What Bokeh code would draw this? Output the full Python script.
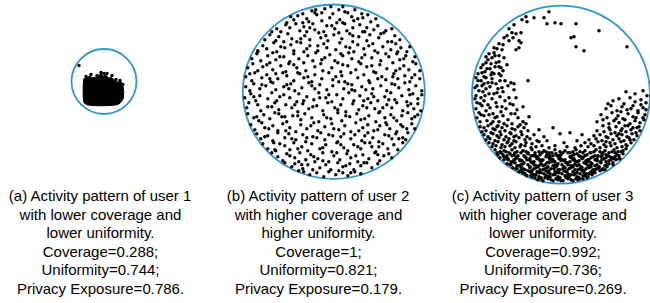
from bokeh.plotting import figure
from bokeh.models import Range1d
from bokeh.embed import file_html
from bokeh.resources import INLINE
from bokeh.core.properties import value

# ---------------- data (map units, relative to each user's circle centre; y grows downward) -------------
# user 1: dense cluster outline + isolated visits
user1_blob_x = [-20.2, -16.8, -14.2, -11.8, -8.5, -5.2, -2.8, -0.8, 1.5, 4.8, 6.5, 9.2, 11.5, 14.8, 18.2,
                19.2, 19.8, 19.2, 16.5, 13.2, 6.5, -3.5, -11.8, -16.8, -20.2, -20.8, -20.8]
user1_blob_y = [-2.7, -4.3, -5.3, -3.7, -4.3, -6.0, -7.7, -5.3, -6.7, -3.3, -4.3, -2.7, 0.0, 0.7, 1.3,
                5.7, 10.7, 17.3, 21.3, 23.3, 24.0, 24.3, 24.0, 23.3, 21.3, 14.0, 4.0]
user1_points = [(-25, -16), (-18, -5), (-13, -7), (-7, -6), (-3, -9), (0, -8), (3, -8), (8, -6), (12, -2),
                (16, -1), (19, 3)]

user2_points = [
    (-31, -78), (-22, -81), (-19, -79), (-9, -83), (-3, -85), (5, -82), (9, -85), (14, -79), (21, -82),
    (28, -78), (-12, -79),
    (-47, -69), (-40, -72), (-36, -76), (-27, -73), (-25, -70), (-17, -77), (-12, -71), (-4, -74), (-1, -78),
    (6, -72), (9, -69), (18, -75), (20, -71), (29, -74), (37, -70), (42, -73), (34, -77), (-31, -69),
    (-57, -63), (-53, -60), (-48, -67), (-44, -64), (-34, -61), (-30, -65), (-21, -68), (-19, -62), (-10, -60),
    (-7, -66), (1, -63), (11, -68), (13, -61), (19, -64), (26, -67), (31, -60), (40, -62), (44, -66),
    (52, -61), (58, -63), (-38, -68), (3, -69),
    (-69, -52), (-64, -57), (-58, -51), (-55, -55), (-46, -58), (-42, -53), (-37, -50), (-29, -56), (-24, -52),
    (-15, -59), (-13, -54), (-6, -51), (0, -57), (8, -53), (16, -58), (19, -50), (25, -55), (33, -51),
    (36, -57), (45, -54), (50, -59), (54, -50), (61, -56), (66, -52), (-50, -50), (5, -59), (29, -60),
    (-76, -41), (-71, -46), (-67, -43), (-60, -49), (-57, -40), (-49, -44), (-43, -47), (-40, -41), (-33, -49),
    (-27, -43), (-24, -46), (-16, -41), (-10, -48), (-7, -44), (2, -42), (6, -49), (12, -45), (20, -40),
    (24, -47), (30, -43), (39, -48), (41, -41), (49, -45), (57, -42), (62, -48), (67, -44), (73, -40), (76, -45),
    (-82, -33), (-77, -38), (-73, -31), (-66, -36), (-61, -39), (-58, -32), (-50, -35), (-44, -30), (-40, -38),
    (-35, -33), (-26, -36), (-21, -31), (-18, -39), (-9, -34), (-4, -37), (1, -31), (9, -36), (15, -39),
    (18, -33), (25, -30), (31, -37), (38, -34), (44, -39), (47, -31), (55, -35), (63, -38), (66, -32),
    (72, -36), (79, -30), (81, -35),
    (-86, -24), (-81, -28), (-76, -21), (-71, -25), (-64, -29), (-61, -22), (-53, -26), (-48, -20), (-45, -28),
    (-37, -24), (-30, -29), (-28, -21), (-19, -25), (-13, -28), (-11, -21), (-2, -24), (4, -29), (7, -20),
    (14, -26), (22, -22), (27, -28), (33, -25), (40, -20), (46, -27), (53, -23), (59, -29), (62, -21),
    (70, -26), (75, -22), (82, -28), (86, -21),
    (-88, -15), (-82, -11), (-79, -19), (-72, -14), (-67, -17), (-63, -10), (-56, -13), (-51, -19), (-47, -16),
    (-40, -11), (-34, -18), (-30, -14), (-22, -10), (-19, -17), (-12, -13), (-5, -19), (-1, -12), (8, -16),
    (11, -10), (17, -19), (24, -14), (30, -17), (35, -11), (42, -19), (48, -15), (52, -12), (60, -18),
    (64, -13), (71, -16), (76, -10), (81, -17), (86, -13),
    (-88, -5), (-84, -1), (-80, -8), (-74, -3), (-68, -6), (-61, -9), (-58, -2), (-50, -5), (-43, -8),
    (-39, -1), (-32, -4), (-25, -9), (-19, -3), (-14, -7), (-7, -2), (-1, -6), (5, -10), (10, -3), (18, -7),
    (21, -1), (28, -5), (36, -9), (39, -3), (47, -6), (53, -1), (58, -8), (65, -4), (71, -9), (75, -2),
    (82, -6), (88, -1),
    (-89, 6), (-83, 2), (-78, 9), (-74, 4), (-66, 7), (-62, 1), (-57, 9), (-50, 3), (-44, 6), (-37, 10),
    (-35, 2), (-27, 5), (-20, 8), (-15, 1), (-8, 6), (-2, 10), (3, 3), (9, 7), (15, 1), (20, 9), (26, 4),
    (34, 7), (38, 2), (44, 9), (51, 5), (57, 1), (61, 8), (68, 4), (73, 10), (79, 2), (84, 7), (88, 3),
    (-87, 16), (-85, 11), (-76, 13), (-73, 19), (-66, 15), (-59, 11), (-55, 18), (-48, 13), (-42, 16),
    (-36, 20), (-31, 12), (-25, 17), (-17, 14), (-11, 19), (-6, 11), (1, 16), (7, 13), (12, 20), (19, 12),
    (25, 18), (29, 14), (37, 11), (41, 17), (46, 20), (53, 13), (58, 16), (63, 11), (69, 19), (74, 14),
    (80, 17), (84, 12), (87, 19),
    (-86, 22), (-80, 26), (-75, 29), (-70, 23), (-64, 27), (-59, 21), (-52, 25), (-47, 30), (-41, 24),
    (-33, 28), (-29, 22), (-22, 26), (-15, 30), (-10, 23), (-3, 27), (4, 21), (8, 29), (16, 25), (23, 22),
    (27, 28), (35, 24), (42, 30), (45, 21), (51, 26), (57, 23), (63, 29), (68, 24), (74, 21), (78, 27),
    (84, 23),
    (-83, 33), (-79, 38), (-72, 31), (-69, 36), (-61, 34), (-56, 39), (-51, 32), (-44, 36), (-38, 40),
    (-33, 33), (-27, 37), (-20, 31), (-16, 39), (-9, 35), (-2, 32), (5, 38), (11, 34), (17, 40), (22, 31),
    (29, 36), (34, 33), (40, 39), (46, 34), (52, 31), (56, 37), (63, 40), (67, 33), (73, 37), (78, 32),
    (81, 37),
    (-77, 42), (-73, 47), (-66, 44), (-61, 49), (-56, 41), (-49, 46), (-45, 42), (-38, 48), (-31, 43),
    (-28, 50), (-21, 45), (-13, 41), (-9, 48), (-1, 44), (4, 50), (10, 42), (17, 47), (21, 43), (28, 49),
    (34, 41), (39, 46), (45, 50), (51, 43), (58, 47), (62, 42), (69, 46), (74, 41), (72, 48),
    (-71, 52), (-66, 57), (-60, 51), (-58, 59), (-49, 54), (-44, 58), (-40, 51), (-32, 55), (-26, 59),
    (-22, 52), (-14, 57), (-8, 53), (-2, 60), (3, 51), (10, 56), (14, 59), (20, 53), (27, 57), (31, 51),
    (38, 55), (42, 60), (49, 52), (54, 57), (60, 53), (64, 58), (69, 51),
    (-62, 61), (-56, 65), (-51, 69), (-47, 62), (-39, 66), (-34, 61), (-28, 68), (-23, 63), (-16, 67),
    (-11, 61), (-5, 70), (0, 64), (6, 68), (13, 62), (17, 66), (24, 70), (29, 63), (35, 67), (41, 61),
    (46, 69), (50, 64), (55, 62), (58, 66),
    (-49, 71), (-42, 75), (-39, 72), (-31, 77), (-26, 73), (-19, 70), (-14, 76), (-8, 73), (-3, 78),
    (4, 71), (9, 75), (16, 72), (20, 78), (27, 74), (33, 71), (38, 76), (44, 72), (-35, 70),
    (-30, 80), (-24, 83), (-17, 81), (-10, 85), (-5, 80), (2, 83), (9, 81), (14, 84), (21, 80), (27, 82),
    (-35, 79),
    # further visits (clumps)
    (-18, -82), (11, -80), (-43, -75), (24, -73), (-2, -66), (33, -64), (-62, -60), (-27, -60), (47, -58),
    (-8, -56), (58, -50), (-53, -45), (16, -44), (35, -46), (-76, -40), (-30, -40), (52, -38), (-12, -32),
    (28, -34), (70, -33), (-67, -27), (-40, -27), (9, -27), (38, -26), (66, -23), (-84, -18), (-58, -18),
    (-26, -15), (2, -15), (44, -13), (78, -14), (-72, -7), (-45, -3), (-22, -6), (14, -8), (32, -2), (61, -7),
    (-80, 5), (-54, 5), (-30, 9), (-5, 3), (30, 9), (55, 8), (76, 3), (-62, 15), (-39, 13), (-21, 15), (4, 18),
    (33, 16), (49, 16), (77, 12), (-77, 25), (-55, 22), (-36, 24), (-7, 26), (12, 24), (31, 27), (60, 26),
    (81, 25), (-65, 37), (-48, 39), (-23, 34), (0, 37), (25, 39), (44, 38), (69, 35), (-69, 45), (-42, 47),
    (-17, 46), (7, 45), (31, 44), (55, 44), (65, 47), (-54, 52), (-36, 57), (-11, 56), (7, 53), (24, 55),
    (45, 55), (-44, 64), (-20, 65), (3, 61), (22, 64), (44, 63), (-32, 73), (-11, 69), (12, 74), (30, 71),
    (-21, 78), (5, 79), (17, 81), (-47, -7), (-16, -46), (19, -56), (-33, -53), (-54, -35), (7, -38),
    (59, -15), (-64, -13), (40, 5), (-14, 6), (-49, 25), (53, 33), (-27, 46), (36, 51), (-59, 58), (-5, 43),
    (18, -2), (-36, -19), (64, -40), (-24, -64),
]

user3_points = [
    # sparse visits in the upper part
    (-12, -83), (-17, -77), (-27, -77), (-35, -78), (-39, -75), (-34, -73), (-14, -71), (-6, -72), (0, -71),
    (15, -71), (38, -64), (10, -57), (13, -58), (15, -48), (23, -44), (66, -48), (-47, -70), (-42, -47),
    (-40, -52), (-45, -45),
    # left band
    (-52, -66), (-49, -62), (-54, -59), (-45, -61), (-40, -62), (-42, -54), (-52, -54), (-57, -57), (-62, -51),
    (-64, -46), (-59, -45), (-67, -42), (-69, -37), (-72, -41), (-62, -39), (-75, -32), (-70, -31), (-65, -32),
    (-60, -27), (-74, -26), (-79, -22), (-69, -22), (-62, -21), (-75, -17), (-80, -14), (-84, -9), (-77, -11),
    (-69, -12), (-82, -4), (-75, -6), (-85, 1), (-80, 3), (-72, -1), (-64, -2), (-59, -7), (-47, -11),
    (-33, -14), (-52, 3),
    (-75, -38), (-66, -39), (-62, -33), (-78, -30), (-57, -37),
    (-80, -27), (-76, -23), (-71, -26), (-67, -21), (-62, -28), (-58, -24), (-83, -21),
    (-85, -17), (-77, -18), (-73, -12), (-69, -16), (-65, -11), (-60, -19), (-56, -14), (-50, -12),
    (-86, -7), (-79, -9), (-71, -8), (-67, -1), (-63, -6), (-58, -3), (-53, -9), (-47, -5),
    (-86, 4), (-84, 8), (-77, 6), (-73, 10), (-69, 4), (-65, 8), (-61, 2), (-56, 6), (-51, 9), (-45, 3),
    (-85, 14), (-82, 18), (-79, 11), (-75, 16), (-71, 13), (-68, 19), (-64, 12), (-60, 17), (-55, 14),
    (-50, 19), (-44, 15), (-38, 12),
    (-84, 23), (-81, 27), (-77, 21), (-74, 26), (-70, 29), (-66, 23), (-62, 27), (-58, 21), (-53, 25),
    (-49, 29), (-43, 23), (-38, 27), (-32, 22),
    (-83, -14), (-78, -3), (-81, 9), (-76, 1), (-72, 20), (-68, 27), (-63, 31), (-57, 29), (-70, -20),
    (-66, -28), (-73, -35), (-67, -47), (-58, -50), (-48, -57), (-54, -30), (-46, 19), (-41, 30), (-35, 29),
    (-47, 42), (-53, 47), (-80, 20), (-64, 22), (-59, 12), (-48, 10), (-61, -14),
    # right band
    (65, -3), (74, -1), (82, -4), (86, 1),
    (52, 6), (58, 4), (63, 9), (69, 3), (74, 7), (80, 5), (85, 8), (47, 9),
    (45, 14), (50, 11), (56, 16), (61, 12), (66, 15), (72, 11), (77, 16), (82, 13), (85, 15),
    (40, 20), (46, 23), (51, 18), (57, 21), (62, 24), (67, 19), (72, 22), (77, 18), (82, 23), (84, 20),
    (36, 27), (42, 25), (48, 29), (53, 26), (58, 28), (64, 25), (69, 29), (74, 26), (79, 28), (83, 25),
    (60, 17), (70, 14), (75, 23), (80, 10), (55, 24), (64, 31), (76, 33), (58, 39), (45, 47), (69, 45),
    # lower left / lower right shoulders
    (-81, 32), (-77, 33), (-73, 31), (-68, 34), (-64, 32), (-59, 33), (-54, 31), (-49, 34), (-43, 32), (-37, 33),
    (-79, 37), (-75, 36), (-70, 38), (-66, 35), (-61, 37), (-56, 36), (-51, 38), (-46, 35), (-40, 37), (-33, 36),
    (-77, 40), (-73, 42), (-68, 39), (-64, 41), (-60, 40), (-55, 42), (-50, 39), (-45, 41), (-39, 40),
    (-34, 42), (-27, 40),
    (-75, 45), (-71, 44), (-66, 46), (-62, 43), (-57, 45), (-52, 44), (-47, 46), (-42, 43), (-36, 45),
    (-31, 44), (-24, 46),
    (-72, 48), (-68, 49), (-63, 47), (-59, 50), (-54, 48), (-49, 49), (-45, 47), (-40, 50), (-35, 48),
    (-29, 49), (-22, 47),
    (-69, 52), (-65, 51), (-60, 53), (-56, 52), (-51, 51), (-46, 53), (-41, 52), (-36, 51), (-30, 53),
    (-25, 52), (-19, 51), (-12, 53),
    (42, 31), (48, 33), (55, 32), (61, 34), (67, 31), (72, 33), (78, 32),
    (36, 36), (43, 37), (49, 35), (54, 38), (60, 36), (65, 37), (70, 35), (75, 38), (79, 36),
    (33, 41), (39, 40), (45, 42), (50, 39), (56, 41), (61, 40), (66, 42), (71, 39), (76, 41),
    (28, 45), (35, 44), (41, 46), (47, 43), (52, 45), (58, 44), (63, 46), (68, 43), (73, 45),
    (24, 48), (30, 49), (37, 47), (43, 50), (49, 48), (54, 49), (60, 47), (65, 50), (70, 48),
    (14, 53), (20, 51), (27, 52), (33, 51), (39, 53), (45, 52), (50, 51), (56, 53), (61, 52), (66, 51),
    (-22, 35), (-1, 39), (9, 38), (16, 46), (-14, 46), (3, 48), (-6, 51), (6, 52), (-17, 42), (21, 40), (-8, 33),
    # dense bottom
    (-66, 55), (-61, 57), (-57, 56), (-52, 58), (-49, 55), (-44, 57), (-38, 56), (-33, 58), (-29, 55), (-22, 57),
    (-17, 56), (-12, 58), (-6, 55), (-1, 57), (4, 56), (9, 58), (15, 55), (19, 57), (24, 56), (30, 58),
    (35, 55), (39, 57), (44, 56), (48, 58), (53, 55), (57, 57), (62, 56), (65, 54),
    (-63, 60), (-60, 58), (-54, 61), (-51, 59), (-47, 60), (-40, 58), (-37, 61), (-33, 59), (-26, 60), (-24, 62),
    (-19, 58), (-14, 60), (-8, 61), (-5, 59), (0, 60), (7, 58), (11, 61), (16, 59), (20, 62), (26, 60),
    (29, 58), (34, 61), (41, 59), (45, 60), (49, 62), (54, 58), (58, 61), (62, 59),
    (-61, 63), (-57, 62), (-53, 64), (-49, 61), (-44, 63), (-41, 65), (-36, 62), (-31, 64), (-28, 61), (-23, 63),
    (-18, 65), (-15, 62), (-10, 64), (-4, 61), (-1, 63), (4, 65), (9, 62), (13, 64), (18, 61), (22, 63),
    (27, 65), (32, 62), (36, 64), (41, 61), (45, 63), (50, 65), (54, 62), (59, 64),
    (-57, 65), (-53, 65), (-50, 67), (-45, 64), (-41, 66), (-37, 68), (-32, 65), (-27, 67), (-24, 64), (-19, 66),
    (-14, 68), (-11, 65), (-6, 67), (-2, 64), (3, 66), (7, 68), (12, 65), (16, 67), (21, 64), (25, 66),
    (30, 68), (34, 65), (39, 67), (43, 64), (48, 66), (52, 68), (55, 65), (58, 64),
    (-54, 69), (-50, 70), (-46, 68), (-42, 71), (-38, 69), (-33, 70), (-29, 68), (-25, 71), (-20, 69), (-16, 70),
    (-12, 68), (-8, 71), (-3, 69), (1, 70), (5, 68), (10, 71), (14, 69), (18, 70), (23, 68), (27, 71),
    (31, 69), (36, 70), (40, 68), (44, 71), (48, 69), (52, 70),
    (-48, 73), (-44, 74), (-40, 72), (-36, 75), (-31, 73), (-27, 74), (-23, 72), (-18, 75), (-14, 73), (-10, 74),
    (-5, 72), (-1, 75), (4, 73), (8, 74), (12, 72), (17, 75), (21, 73), (25, 74), (30, 72), (34, 75),
    (38, 73), (42, 74), (46, 72),
    (-42, 77), (-38, 78), (-33, 76), (-29, 79), (-24, 77), (-20, 78), (-15, 76), (-11, 79), (-6, 77), (-2, 78),
    (3, 76), (7, 79), (12, 77), (16, 78), (21, 76), (25, 79), (30, 77), (34, 78), (39, 76),
    (-34, 81), (-29, 82), (-25, 80), (-20, 83), (-15, 81), (-11, 82), (-6, 80), (-1, 83), (4, 81), (8, 82),
    (13, 80), (18, 83), (22, 81), (27, 82), (31, 80),
    (-23, 85), (-18, 86), (-13, 84), (-8, 86), (-3, 85), (2, 86), (7, 84), (12, 86), (17, 85), (22, 84),
    (-48, 67), (-39, 66), (-30, 67), (-21, 66), (-9, 67), (0, 66), (9, 67), (18, 66), (27, 67), (36, 66), (45, 67),
    (-44, 71), (-31, 72), (-22, 71), (-13, 72), (-4, 71), (3, 72), (12, 71), (20, 72), (29, 71), (38, 72),
    (-40, 75), (-29, 76), (-21, 75), (-12, 76), (-3, 75), (6, 76), (14, 75), (23, 76), (32, 75), (41, 75),
    (-36, 79), (-27, 80), (-17, 79), (-8, 80), (1, 79), (10, 80), (19, 79), (28, 79),
    (-26, 83), (-16, 83), (-5, 84), (5, 83), (15, 84), (26, 83),
    (-55, 63), (-45, 62), (-35, 63), (-25, 62), (-12, 63), (-2, 62), (10, 63), (20, 62), (30, 63), (40, 62), (51, 63),
    (-64, 58), (-55, 57), (-46, 58), (-35, 57), (-26, 58), (-15, 57), (-9, 58), (2, 58), (12, 57), (22, 58),
    (33, 57), (42, 58), (51, 57), (60, 57),
    (-58, 60), (-43, 61), (-30, 61), (-21, 60), (-11, 61), (-2, 61), (13, 60), (24, 61), (37, 61), (47, 61), (56, 60),
    (-47, 65), (-34, 65), (-21, 65), (-8, 65), (1, 65), (14, 66), (28, 65), (41, 65), (53, 64),
    (-51, 70), (-40, 70), (-27, 70), (-18, 71), (-6, 70), (7, 70), (16, 71), (25, 69), (34, 71), (46, 70),
    (-45, 74), (-38, 74), (-25, 73), (-16, 74), (-7, 74), (2, 74), (10, 73), (19, 74), (28, 73), (36, 74), (44, 75),
    (-39, 77), (-31, 77), (-22, 78), (-13, 78), (-4, 78), (5, 77), (14, 79), (23, 78), (32, 78),
    (-30, 81), (-22, 82), (-13, 82), (-3, 82), (6, 82), (16, 82), (24, 81),
    (-20, 84), (-10, 85), (0, 86), (10, 85), (19, 84),
]

panel_labels = ["(a)", "(b)", "(c)"]
user_ids = [1, 2, 3]
coverage_level = ["lower", "higher", "higher"]
uniformity_level = ["lower", "higher", "lower"]
coverage = [0.288, 1, 0.992]
uniformity = [0.744, 0.821, 0.736]
privacy_exposure = [0.786, 0.179, 0.269]

# ---------------- layout (picture pixel frame) ----------------
CENTRES = [(103.5, 81.0), (333.3, 91.2), (560.5, 94.2)]
DIAMETERS = [(65.0, 65.0), (182.0, 174.4), (178.0, 178.0)]
DOT_SIZES = [3.4, 3.4, 3.6]
CAPTION_X = [100.0, 318.0, 542.5]
CAPTION_Y0 = 195.0
LINE_STEP = 18.5
BLUE = "#3196cb"

p = figure(width=650, height=303, x_range=Range1d(0, 650), y_range=Range1d(303, 0),
           output_backend="svg", toolbar_location=None, min_border=0,
           x_axis_location=None, y_axis_location=None)
p.grid.visible = False
p.outline_line_color = None
p.background_fill_color = "white"
p.border_fill_color = "white"

# circles
p.ellipse(x=[c[0] for c in CENTRES], y=[c[1] for c in CENTRES],
          width=[d[0] for d in DIAMETERS], height=[d[1] for d in DIAMETERS],
          fill_color=None, line_color=BLUE, line_width=1.8)

# user 1 dense cluster
cx, cy = CENTRES[0]
p.patch(x=[cx + v for v in user1_blob_x], y=[cy + v for v in user1_blob_y],
        fill_color="black", line_color="black", line_width=1)

for (cx, cy), pts, sz in zip(CENTRES, [user1_points, user2_points, user3_points], DOT_SIZES):
    p.scatter(x=[cx + q[0] for q in pts], y=[cy + q[1] for q in pts], size=sz,
              marker="circle", fill_color="black", line_color=None)

# captions
for i in range(3):
    lines = [
        f"{panel_labels[i]} Activity pattern of user {user_ids[i]}",
        f"with {coverage_level[i]} coverage and",
        f"{uniformity_level[i]} uniformity.",
        f"Coverage={coverage[i]:g};",
        f"Uniformity={uniformity[i]:g};",
        f"Privacy Exposure={privacy_exposure[i]:g}.",
    ]
    p.text(x=[CAPTION_X[i]] * len(lines), y=[CAPTION_Y0 + LINE_STEP * k for k in range(len(lines))],
           text=lines, text_align="center", text_baseline="middle",
           text_font=value("Liberation Sans"), text_font_size="15px", text_color="black")

open("out.html", "w").write(file_html(p, INLINE))
